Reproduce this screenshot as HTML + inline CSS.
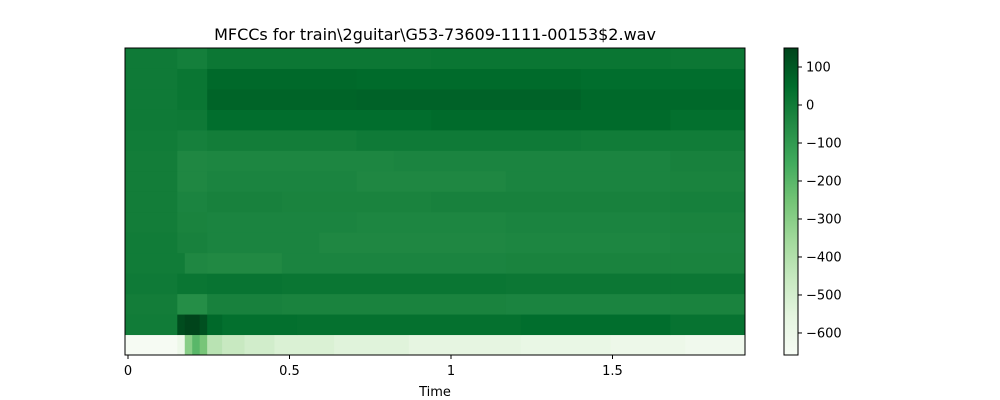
<!DOCTYPE html>
<html><head><meta charset="utf-8"><style>body{margin:0;background:#fff}svg{display:block;font-family:"DejaVu Sans","Liberation Sans",sans-serif}</style></head>
<body>
<svg id="c" width="1000" height="400">
<text x="435" y="40" font-size="16" text-anchor="middle">MFCCs for train\2guitar\G53-73609-1111-00153$2.wav</text>
<g id="hm"></g>
<rect x="125" y="48" width="620" height="307" fill="none" stroke="#000" stroke-width="1"/>
<g id="xt"></g>
<text x="435" y="396" font-size="13" text-anchor="middle">Time</text>
<defs><linearGradient id="cg" x1="0" y1="1" x2="0" y2="0">
<stop offset="0" stop-color="#f7fcf5"/><stop offset="0.125" stop-color="#e5f5e0"/><stop offset="0.25" stop-color="#c7e9c0"/><stop offset="0.375" stop-color="#a1d99b"/><stop offset="0.5" stop-color="#74c476"/><stop offset="0.625" stop-color="#41ab5d"/><stop offset="0.75" stop-color="#238b45"/><stop offset="0.875" stop-color="#006d2c"/><stop offset="1" stop-color="#00441b"/></linearGradient></defs>
<rect x="784" y="48" width="14" height="307" fill="url(#cg)" stroke="#000" stroke-width="1"/>
<g id="ct"></g>
</svg>
<script>
const vmin=-658, vmax=150, nCols=83;
const xTicks=[0,0.5,1,1.5];
const xTickLabels=["0","0.5","1","1.5"];
const cTicks=[100,0,-100,-200,-300,-400,-500,-600];
const row0=[[-650,7],[-600,1],[-300,1],[-200,1],[-260,1],[-420,2],[-460,3],[-490,4],[-520,8],[-540,10],[-560,15],[-580,12],[-600,10],[-620,8]];
const row1=[[0,7],[130,1],[150,2],[120,1],[60,2],[40,10],[35,30],[45,20],[30,10]];
const row2=[[-5,7],[-60,4],[-20,10],[-25,30],[-30,22],[-25,10]];
const row3=[[5,7],[20,4],[25,10],[20,30],[15,22],[15,10]];
const row4=[[0,8],[-40,3],[-45,10],[-30,30],[-25,22],[-25,10]];
const row5=[[0,7],[-20,4],[-30,15],[-40,25],[-35,22],[-30,10]];
const row6=[[-5,7],[-25,4],[-30,20],[-35,20],[-30,22],[-25,10]];
const row7=[[-5,7],[-30,4],[-20,10],[-25,20],[-20,32],[-15,10]];
const row8=[[-5,7],[-40,4],[-30,20],[-40,20],[-30,22],[-25,10]];
const row9=[[-5,7],[-40,4],[-35,25],[-30,37],[-20,10]];
const row10=[[0,7],[-15,4],[-5,20],[5,30],[0,22]];
const row11=[[5,7],[10,4],[45,30],[55,32],[40,10]];
const row12=[[5,7],[20,4],[70,20],[75,30],[60,22]];
const row13=[[5,7],[20,4],[60,20],[55,30],[45,22]];
const row14=[[5,7],[-10,4],[15,30],[20,32],[15,10]];
const rows=[row0,row1,row2,row3,row4,row5,row6,row7,row8,row9,row10,row11,row12,row13,row14];

const L=125,R=745,T=48,B=355;
const xs=t=>128+t*323;
const ys=v=>B-(v-vmin)/(vmax-vmin)*(B-T);
const stops=["#f7fcf5","#e5f5e0","#c7e9c0","#a1d99b","#74c476","#41ab5d","#238b45","#006d2c","#00441b"].map(h=>[1,3,5].map(i=>parseInt(h.substr(i,2),16)));
function col(v){let f=Math.max(0,Math.min(1,(v-vmin)/(vmax-vmin)))*8;let i=Math.min(7,Math.floor(f)),r=f-i;
 return 'rgb('+stops[i].map((c,k)=>Math.round(c+(stops[i+1][k]-c)*r)).join(',')+')';}
const NS="http://www.w3.org/2000/svg";
const hm=document.getElementById('hm');
const cw=(R-L)/nCols, rh=(B-T)/rows.length;
rows.forEach((runs,ri)=>{let c=0;runs.forEach(([v,n])=>{
 const r=document.createElementNS(NS,'rect');
 r.setAttribute('x',(L+c*cw).toFixed(2));r.setAttribute('y',(B-(ri+1)*rh).toFixed(2));
 r.setAttribute('width',(n*cw+0.5).toFixed(2));r.setAttribute('height',(rh+0.5).toFixed(2));
 r.setAttribute('fill',col(v));
 
 
 hm.appendChild(r);c+=n;});});
const xt=document.getElementById('xt');
xTicks.forEach((t,i)=>{const x=xs(t);
 const l=document.createElementNS(NS,'line');l.setAttribute('x1',x);l.setAttribute('x2',x);l.setAttribute('y1',B);l.setAttribute('y2',B+4);l.setAttribute('stroke','#000');
 
 
 xt.appendChild(l);
 const s=document.createElementNS(NS,'text');s.setAttribute('x',x);s.setAttribute('y',B+20);s.setAttribute('font-size','13');s.setAttribute('text-anchor','middle');s.textContent=xTickLabels[i];
 
 
 xt.appendChild(s);});
const ct=document.getElementById('ct');
cTicks.forEach(v=>{const y=ys(v);
 const l=document.createElementNS(NS,'line');l.setAttribute('x1',798);l.setAttribute('x2',802);l.setAttribute('y1',y);l.setAttribute('y2',y);l.setAttribute('stroke','#000');
 
 
 ct.appendChild(l);
 const s=document.createElementNS(NS,'text');s.setAttribute('x',806);s.setAttribute('y',y+4.5);s.setAttribute('font-size','13');s.textContent=(v<0?'\u2212':'')+Math.abs(v);
 
 
 ct.appendChild(s);});
</script>
</body></html>
